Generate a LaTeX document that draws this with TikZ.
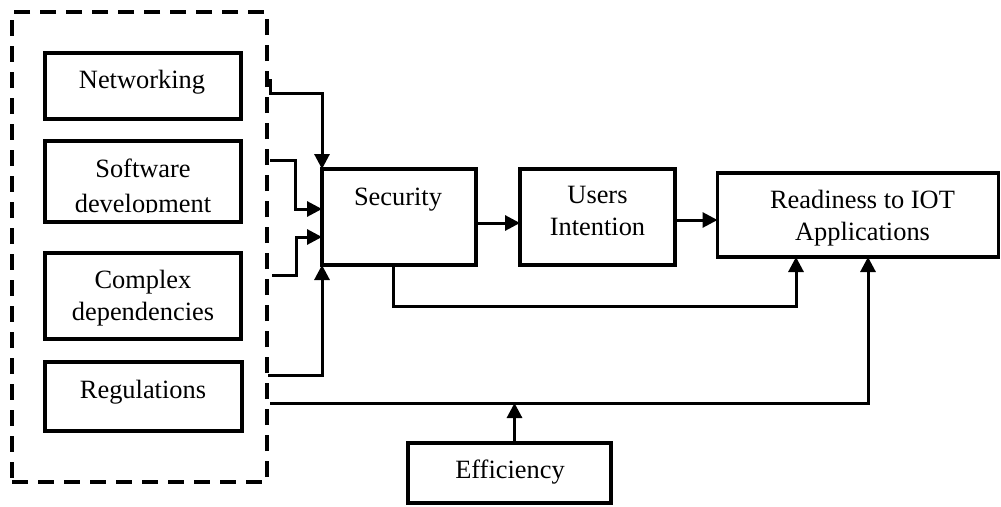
\documentclass[tikz,border=0pt]{standalone}
\usepackage{fontspec}
\setmainfont{Liberation Serif}
\usetikzlibrary{arrows.meta,calc}
\begin{document}
\begin{tikzpicture}[x=1pt,y=-1pt,
  box/.style={draw,line width=3.8pt,inner sep=0pt,outer sep=0pt},
  grpbox/.style={draw,line width=3.5pt,dash pattern=on 16pt off 10pt,inner sep=0pt,outer sep=0pt},
  txt/.style={inner sep=0pt,anchor=base,font=\fontsize{26.4}{32}\selectfont},
  conn/.style={line width=3pt,-{Triangle[length=15pt,width=15pt]}},
  plain/.style={line width=3pt}]
\useasboundingbox (0,0) rectangle (1001,506);
% group (dashed)
\node[grpbox,minimum width=255pt,minimum height=470pt] (grp) at (139.5,247) {};
% boxes
\node[box,minimum width=196pt,minimum height=66pt] (net) at (143,86) {};
\node[box,minimum width=196pt,minimum height=81pt] (soft) at (143,181.5) {};
\node[box,minimum width=196pt,minimum height=86pt] (comp) at (143,296) {};
\node[box,minimum width=197pt,minimum height=69pt] (reg) at (143.5,396.5) {};
\node[box,minimum width=154pt,minimum height=96pt] (sec) at (399,217) {};
\node[box,minimum width=155pt,minimum height=96pt] (users) at (597.5,217) {};
\node[box,minimum width=281pt,minimum height=84pt] (ready) at (858,215) {};
\node[box,minimum width=203pt,minimum height=60pt] (eff) at (509.5,473) {};
% texts
\node[txt] (netT) at (142,88) {Networking};
\begin{scope}
\clip (47,143) rectangle (239,212.5);
\node[txt] (softT) at (143,177) {\begin{tabular}[t]{@{}c@{}}Software\\[3pt]development\end{tabular}};
\end{scope}
\node[txt] (compT) at (143,288) {\begin{tabular}[t]{@{}c@{}}Complex\\dependencies\end{tabular}};
\node[txt] (regT) at (143,398) {Regulations};
\node[txt] (secT) at (398,205) {Security};
\node[txt] (usersT) at (597.5,203) {\begin{tabular}[t]{@{}c@{}}Users\\Intention\end{tabular}};
\node[txt] (readyT) at (862.5,208) {\begin{tabular}[t]{@{}c@{}}Readiness to IOT\\Applications\end{tabular}};
\node[txt] (effT) at (510,478) {Efficiency};
% connector start points
\coordinate (nS) at (270,79);
\coordinate (sS) at (270,160);
\coordinate (cS) at (272,275);
\coordinate (rS1) at (268,375);
\coordinate (rS2) at (270,403);
\coordinate (effTop) at ($(eff.north)+(5,0)$);
% connectors
\draw[conn] (nS) -- ++(0,14) -| (sec.north west);
\draw[conn] (sS) -- ++(25,0) |- ($(sec.west)+(0,-8)$);
\draw[conn] (cS) -- ++(24,0) |- ($(sec.west)+(0,20)$);
\draw[conn] (rS1) -| (sec.south west);
\draw[conn] (rS2) -| ($(ready.south west)+(150.5,0)$);
\draw[conn] (effTop) -- (effTop |- rS2);
\draw[conn] ($(sec.east)+(0,6)$) -- ($(users.west)+(0,6)$);
\draw[conn] ($(users.east)+(0,3)$) -- ($(ready.west)+(0,5)$);
\draw[conn] ($(sec.south west)+(71,0)$) -- ++(0,41) -| ($(ready.south west)+(78.5,0)$);
\end{tikzpicture}
\end{document}
